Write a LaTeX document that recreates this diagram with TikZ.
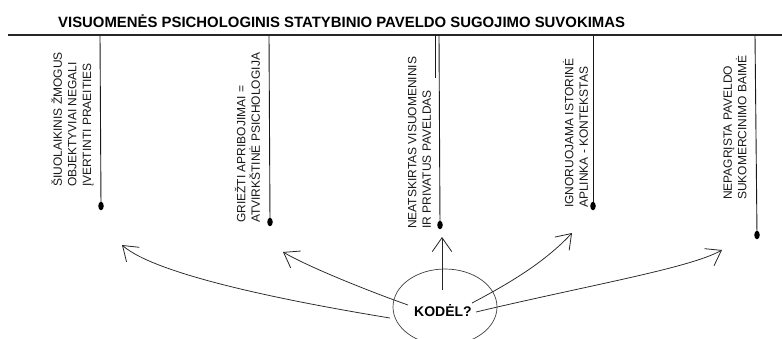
\documentclass[tikz,border=0pt]{standalone}
\usepackage{fontspec}
\setmainfont{Liberation Sans}
\usetikzlibrary{arrows.meta,shapes.geometric}
\tikzset{
  ink/.style={draw=black!85, line width=0.75pt},
  rule/.style={draw=black!85, line width=2.2pt},
  stem/.style={draw=black!90, line width=0.9pt},
  blob/.style={ellipse, fill=black, inner sep=0pt, minimum width=5.5pt, minimum height=8.5pt},
  vlabel/.style={rotate=90, anchor=west, inner sep=0pt, align=left,
    font=\fontsize{12}{14.6}\selectfont, text=black!90},
  handarrow/.style={ink, -{Straight Barb[angle=70:17pt, line width=0.8pt]}},
}
\begin{document}
\begin{tikzpicture}[x=1pt, y=-1pt]
\clip (0,0) rectangle (782,338);
\fill[white] (0,0) rectangle (782,338);

% title
\node[anchor=base west, inner sep=0pt, font=\fontsize{14.9}{17}\selectfont\bfseries] (title) at (58,27)
  {VISUOMENĖS PSICHOLOGINIS STATYBINIO PAVELDO SUGOJIMO SUVOKIMAS};

% top rule
\coordinate (rl) at (8,35);
\coordinate (rr) at (782,35);
\draw[rule] (rl) -- (rr);

% stems
\coordinate (t1) at (100,35);  \coordinate (b1) at (101,206);
\coordinate (t2) at (269,35);  \coordinate (b2) at (270,222);
\coordinate (t3) at (439,35);  \coordinate (b3) at (440,225);
\coordinate (t3b) at (435.5,35); \coordinate (e3b) at (435.5,78);
\coordinate (t4) at (593,35);  \coordinate (b4) at (593,206);
\coordinate (t5) at (755,35);  \coordinate (b5) at (757,235);
\foreach \i in {1,...,5} {
  \draw[stem] (t\i) -- (b\i);
  \node[blob] (d\i) at (b\i) {};
}
\draw[stem, line width=0.7pt] (t3b) -- (e3b);

% labels
\node[vlabel] (l1) at (72.5,187) {ŠIUOLAIKINIS ŽMOGUS\\OBJEKTYVIAI NEGALI\\ĮVERTINTI PRAEITIES};
\node[vlabel] (l2) at (247.5,223) {GRIEŽTI APRIBOJIMAI =\\ATVIRKŠTINĖ PSICHOLOGIJA};
\node[vlabel] (l3) at (419.5,229) {NEATSKIRTAS VISUOMENINIS\\IR PRIVATUS PAVELDAS};
\node[vlabel] (l4) at (575.5,208) {IGNORUOJAMA ISTORINĖ\\APLINKA - KONTEKSTAS};
\node[vlabel] (l5) at (735,200) {NEPAGRĮSTA PAVELDO\\SUKOMERCINIMO BAIMĖ};

% central oval
\node[ellipse, draw=black!75, line width=0.7pt, minimum width=104pt, minimum height=76pt, inner sep=0pt] (oval) at (445,307) {};
\node[font=\fontsize{14}{16}\selectfont\bfseries, inner sep=0pt] (kodel) at (443,311) {KODĖL?};

% arrow starts and tips
\coordinate (s1) at (390,318);  \coordinate (a1) at (122,245);
\coordinate (s2) at (408,305);  \coordinate (a2) at (283,252);
\coordinate (s3) at (442,290);  \coordinate (a3) at (442,237);
\coordinate (s4) at (472,303);  \coordinate (a4) at (572,233);
\coordinate (s5) at (476,312);  \coordinate (a5) at (722,250);

\draw[handarrow] (s1) .. controls (280,300) and (155,274) .. (a1);
\draw[handarrow] (s2) .. controls (360,288) and (305,265) .. (a2);
\draw[handarrow] (s3) -- (a3);
\draw[handarrow] (s4) .. controls (510,283) and (545,262) .. (a4);
\draw[handarrow] (s5) .. controls (590,285) and (690,268) .. (a5);
\end{tikzpicture}
\end{document}
